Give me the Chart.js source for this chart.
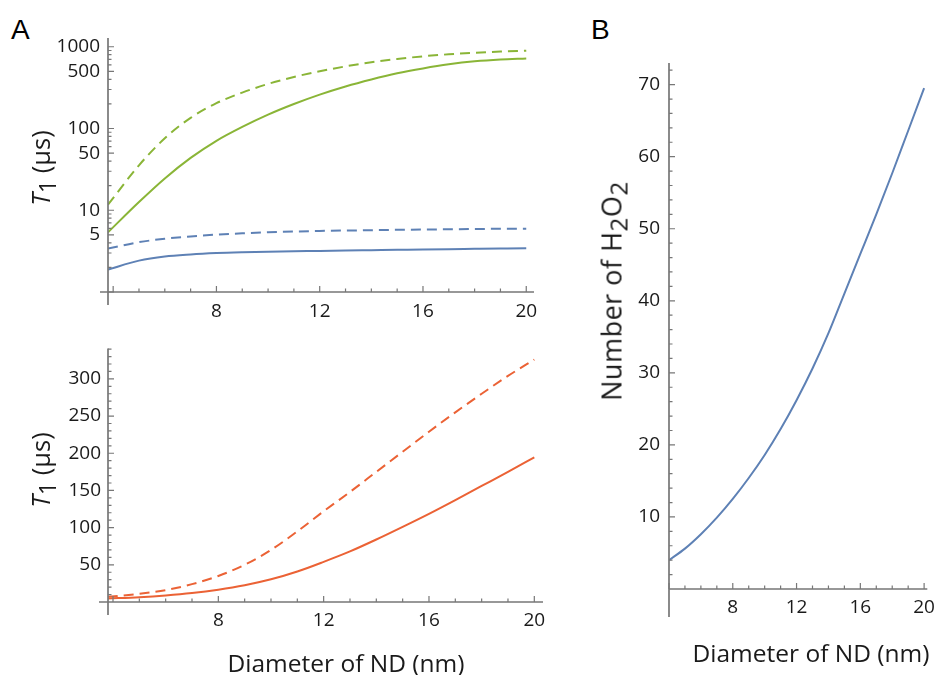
<!DOCTYPE html>
<html>
<head>
<meta charset="utf-8">
<script src="https://cdn.jsdelivr.net/npm/chart.js@4"></script>
<style>
  body { margin: 0; background: #fff; width: 942px; height: 675px; position: relative; overflow: hidden;
         font-family: "Open Sans", sans-serif; color: #1a1a1a; }
  canvas { position: absolute; }
  .panel { position: absolute; font-family: "Liberation Sans", Arial, sans-serif; font-size: 28px; color: #000; }
  .title { position: absolute; font-size: 24.5px; white-space: nowrap; transform: translate(-50%, -50%); }
  .ytitle { position: absolute; font-size: 25.5px; white-space: nowrap; transform: translate(-50%, -50%) rotate(-90deg); }
  .ytitle sub { font-size: 0.9em; vertical-align: -0.25em; line-height: 0; }
</style>
</head>
<body>
<div class="panel" style="left:11px;top:14px">A</div>
<div class="panel" style="left:591px;top:14px">B</div>

<canvas id="top" width="560" height="330" style="left:0;top:0"></canvas>
<canvas id="bottom" width="560" height="345" style="left:0;top:330px"></canvas>
<canvas id="right" width="382" height="675" style="left:560px;top:0"></canvas>

<div class="ytitle" style="left:40px;top:168px"><i>T</i><sub>1</sub> (μs)</div>
<div class="ytitle" style="left:40px;top:470px"><i>T</i><sub>1</sub> (μs)</div>
<div class="ytitle" style="left:611px;top:291px;font-size:27px;letter-spacing:0.5px">Number of H<sub>2</sub>O<sub>2</sub></div>
<div class="title" style="left:346px;top:662px">Diameter of ND (nm)</div>
<div class="title" style="left:811px;top:652px">Diameter of ND (nm)</div>

<script>
// panel A, top (log scale)
const diam = [3.8, 5, 6, 7, 8, 9, 10, 11, 12, 13, 14, 15, 16, 17, 18, 19, 20];
const greenSolid  = [5.37, 12.6, 24.5, 43.7, 70.8, 104.7, 147.9, 199.5, 260, 327, 398, 473, 543, 610, 664, 700, 721];
const greenDashed = [11.7, 35.5, 75.9, 134.9, 204, 275, 351, 427, 501, 575, 646, 708, 764, 809, 845, 873, 893];
const blueSolid   = [1.88, 2.42, 2.72, 2.88, 2.99, 3.06, 3.11, 3.15, 3.18, 3.22, 3.25, 3.28, 3.31, 3.34, 3.37, 3.40, 3.43];
const blueDashed  = [3.4, 4.07, 4.48, 4.79, 5.03, 5.22, 5.37, 5.49, 5.59, 5.65, 5.7, 5.76, 5.8, 5.85, 5.9, 5.93, 5.96];

// panel A, bottom (linear)
const redSolid  = [4.7, 6.5, 8.8, 12, 16.5, 22.5, 30.5, 41, 54, 68, 84, 101, 118.5, 137, 156, 175, 194.5];
const redDashed = [7, 11, 16, 24, 35, 50, 70, 95, 122, 148, 175, 202, 229, 255, 280, 304, 326];

// panel B
const diamB = [4, 5, 6, 7, 8, 9, 10, 11, 12, 13, 14, 15, 16, 17, 18, 19, 20];
const h2o2  = [4.0, 5.6, 7.6, 9.9, 12.5, 15.4, 18.6, 22.2, 26.2, 30.6, 35.5, 41.0, 46.5, 52.0, 57.7, 63.6, 69.5];

// tick labels
const xTicks = [8, 12, 16, 20];
const topTicks = [5, 10, 50, 100, 500, 1000];
const bottomTicks = [50, 100, 150, 200, 250, 300];
const rightTicks = [10, 20, 30, 40, 50, 60, 70];

const GREEN = '#8AB537', BLUE = '#5E81B5', RED = '#EB6235';
const AXIS = '#777';
const tickFont = { family: 'Open Sans', size: 19 };

const pts = (xs, ys) => xs.map((x, i) => ({ x: x, y: ys[i] }));
const range = (a, b, s) => { const r = []; for (let v = a; v <= b + 1e-9; v += s) r.push(+v.toFixed(6)); return r; };

// Mathematica-like axes: lines through the origin, ticks pointing inward
const mmaAxes = {
  id: 'mmaAxes',
  afterDraw(chart, args, o) {
    const { ctx, chartArea: a, scales: { x, y } } = chart;
    ctx.save();
    ctx.strokeStyle = AXIS;
    ctx.lineWidth = 1.7;
    ctx.beginPath();
    ctx.moveTo(a.left - o.xExt, a.bottom); ctx.lineTo(a.right, a.bottom);
    ctx.moveTo(a.left, a.top); ctx.lineTo(a.left, a.bottom + o.yExt);
    ctx.stroke();
    ctx.lineWidth = 1.2;
    ctx.beginPath();
    const xt = (v, len) => { const p = x.getPixelForValue(v); ctx.moveTo(p, a.bottom); ctx.lineTo(p, a.bottom - len); };
    const yt = (v, len) => { const p = y.getPixelForValue(v); ctx.moveTo(a.left, p); ctx.lineTo(a.left + len, p); };
    o.xMajor.forEach(v => xt(v, 6));
    o.xMinor.forEach(v => xt(v, 3.5));
    o.yMajor.forEach(v => yt(v, 6));
    o.yMinor.forEach(v => yt(v, 3.5));
    ctx.stroke();
    ctx.restore();
  }
};

function line(data, color, dashed) {
  return {
    data: data, borderColor: color, borderWidth: 2, borderDash: dashed ? [10, 6] : [],
    pointRadius: 0, fill: false, cubicInterpolationMode: 'monotone'
  };
}

function makeChart(id, cfg) {
  return new Chart(document.getElementById(id), {
    type: 'line',
    data: { datasets: cfg.datasets },
    options: {
      responsive: false, animation: false, devicePixelRatio: 1,
      layout: { padding: { top: cfg.padTop, right: cfg.padRight, left: 0, bottom: 0 } },
      plugins: { legend: { display: false }, tooltip: { enabled: false }, mmaAxes: cfg.axes },
      scales: {
        x: {
          type: 'linear', min: cfg.xMin, max: cfg.xMax,
          grid: { display: false, drawTicks: false }, border: { display: false },
          afterBuildTicks: s => { s.ticks = xTicks.map(v => ({ value: v })); },
          afterFit: s => { s.height = cfg.xHeight; },
          ticks: { font: tickFont, color: '#1a1a1a', padding: cfg.xPad, maxRotation: 0, autoSkip: false, callback: v => String(v) }
        },
        y: {
          type: cfg.yType, min: cfg.yMin, max: cfg.yMax,
          grid: { display: false, drawTicks: false }, border: { display: false },
          afterBuildTicks: s => { s.ticks = cfg.yTicks.map(v => ({ value: v })); },
          afterFit: s => { s.width = cfg.yWidth; },
          ticks: { font: tickFont, color: '#1a1a1a', padding: cfg.yPad, autoSkip: false, callback: v => String(v) }
        }
      }
    },
    plugins: [mmaAxes]
  });
}

const xMajor = [4, 8, 12, 16, 20];
const xMinor = range(4, 20, 1).filter(v => !xMajor.includes(v));

makeChart('top', {
  datasets: [
    line(pts(diam, greenSolid), GREEN, false),
    line(pts(diam, greenDashed), GREEN, true),
    line(pts(diam, blueSolid), BLUE, false),
    line(pts(diam, blueDashed), BLUE, true)
  ],
  xMin: 3.8, xMax: 20.3, yType: 'logarithmic', yMin: 1, yMax: 1280, yTicks: topTicks,
  padTop: 38, padRight: 26, xHeight: 38, yWidth: 108, xPad: 8, yPad: 8,
  axes: {
    xExt: 8, yExt: 13, xMajor: xMajor, xMinor: xMinor,
    yMajor: [1, 5, 10, 50, 100, 500, 1000],
    yMinor: [2, 3, 4, 6, 7, 8, 9, 20, 30, 40, 60, 70, 80, 90, 200, 300, 400, 600, 700, 800, 900]
  }
});

makeChart('bottom', {
  datasets: [
    line(pts(diam, redSolid), RED, false),
    line(pts(diam, redDashed), RED, true)
  ],
  xMin: 3.81, xMax: 20.33, yType: 'linear', yMin: 0, yMax: 341, yTicks: bottomTicks,
  padTop: 13, padRight: 17, xHeight: 73, yWidth: 108, xPad: 7, yPad: 7,
  axes: {
    xExt: 9, yExt: 13, xMajor: xMajor, xMinor: xMinor,
    yMajor: bottomTicks, yMinor: range(10, 340, 10).filter(v => v % 50 !== 0)
  }
});

makeChart('right', {
  datasets: [line(pts(diamB, h2o2), BLUE, false)],
  xMin: 4, xMax: 20.2, yType: 'linear', yMin: 0, yMax: 73, yTicks: rightTicks,
  padTop: 63, padRight: 2, xHeight: 86, yWidth: 109, xPad: 7, yPad: 9,
  axes: {
    xExt: 0, yExt: 28, xMajor: xMajor, xMinor: xMinor,
    yMajor: rightTicks, yMinor: range(2, 72, 2).filter(v => v % 10 !== 0)
  }
});
</script>
</body>
</html>
